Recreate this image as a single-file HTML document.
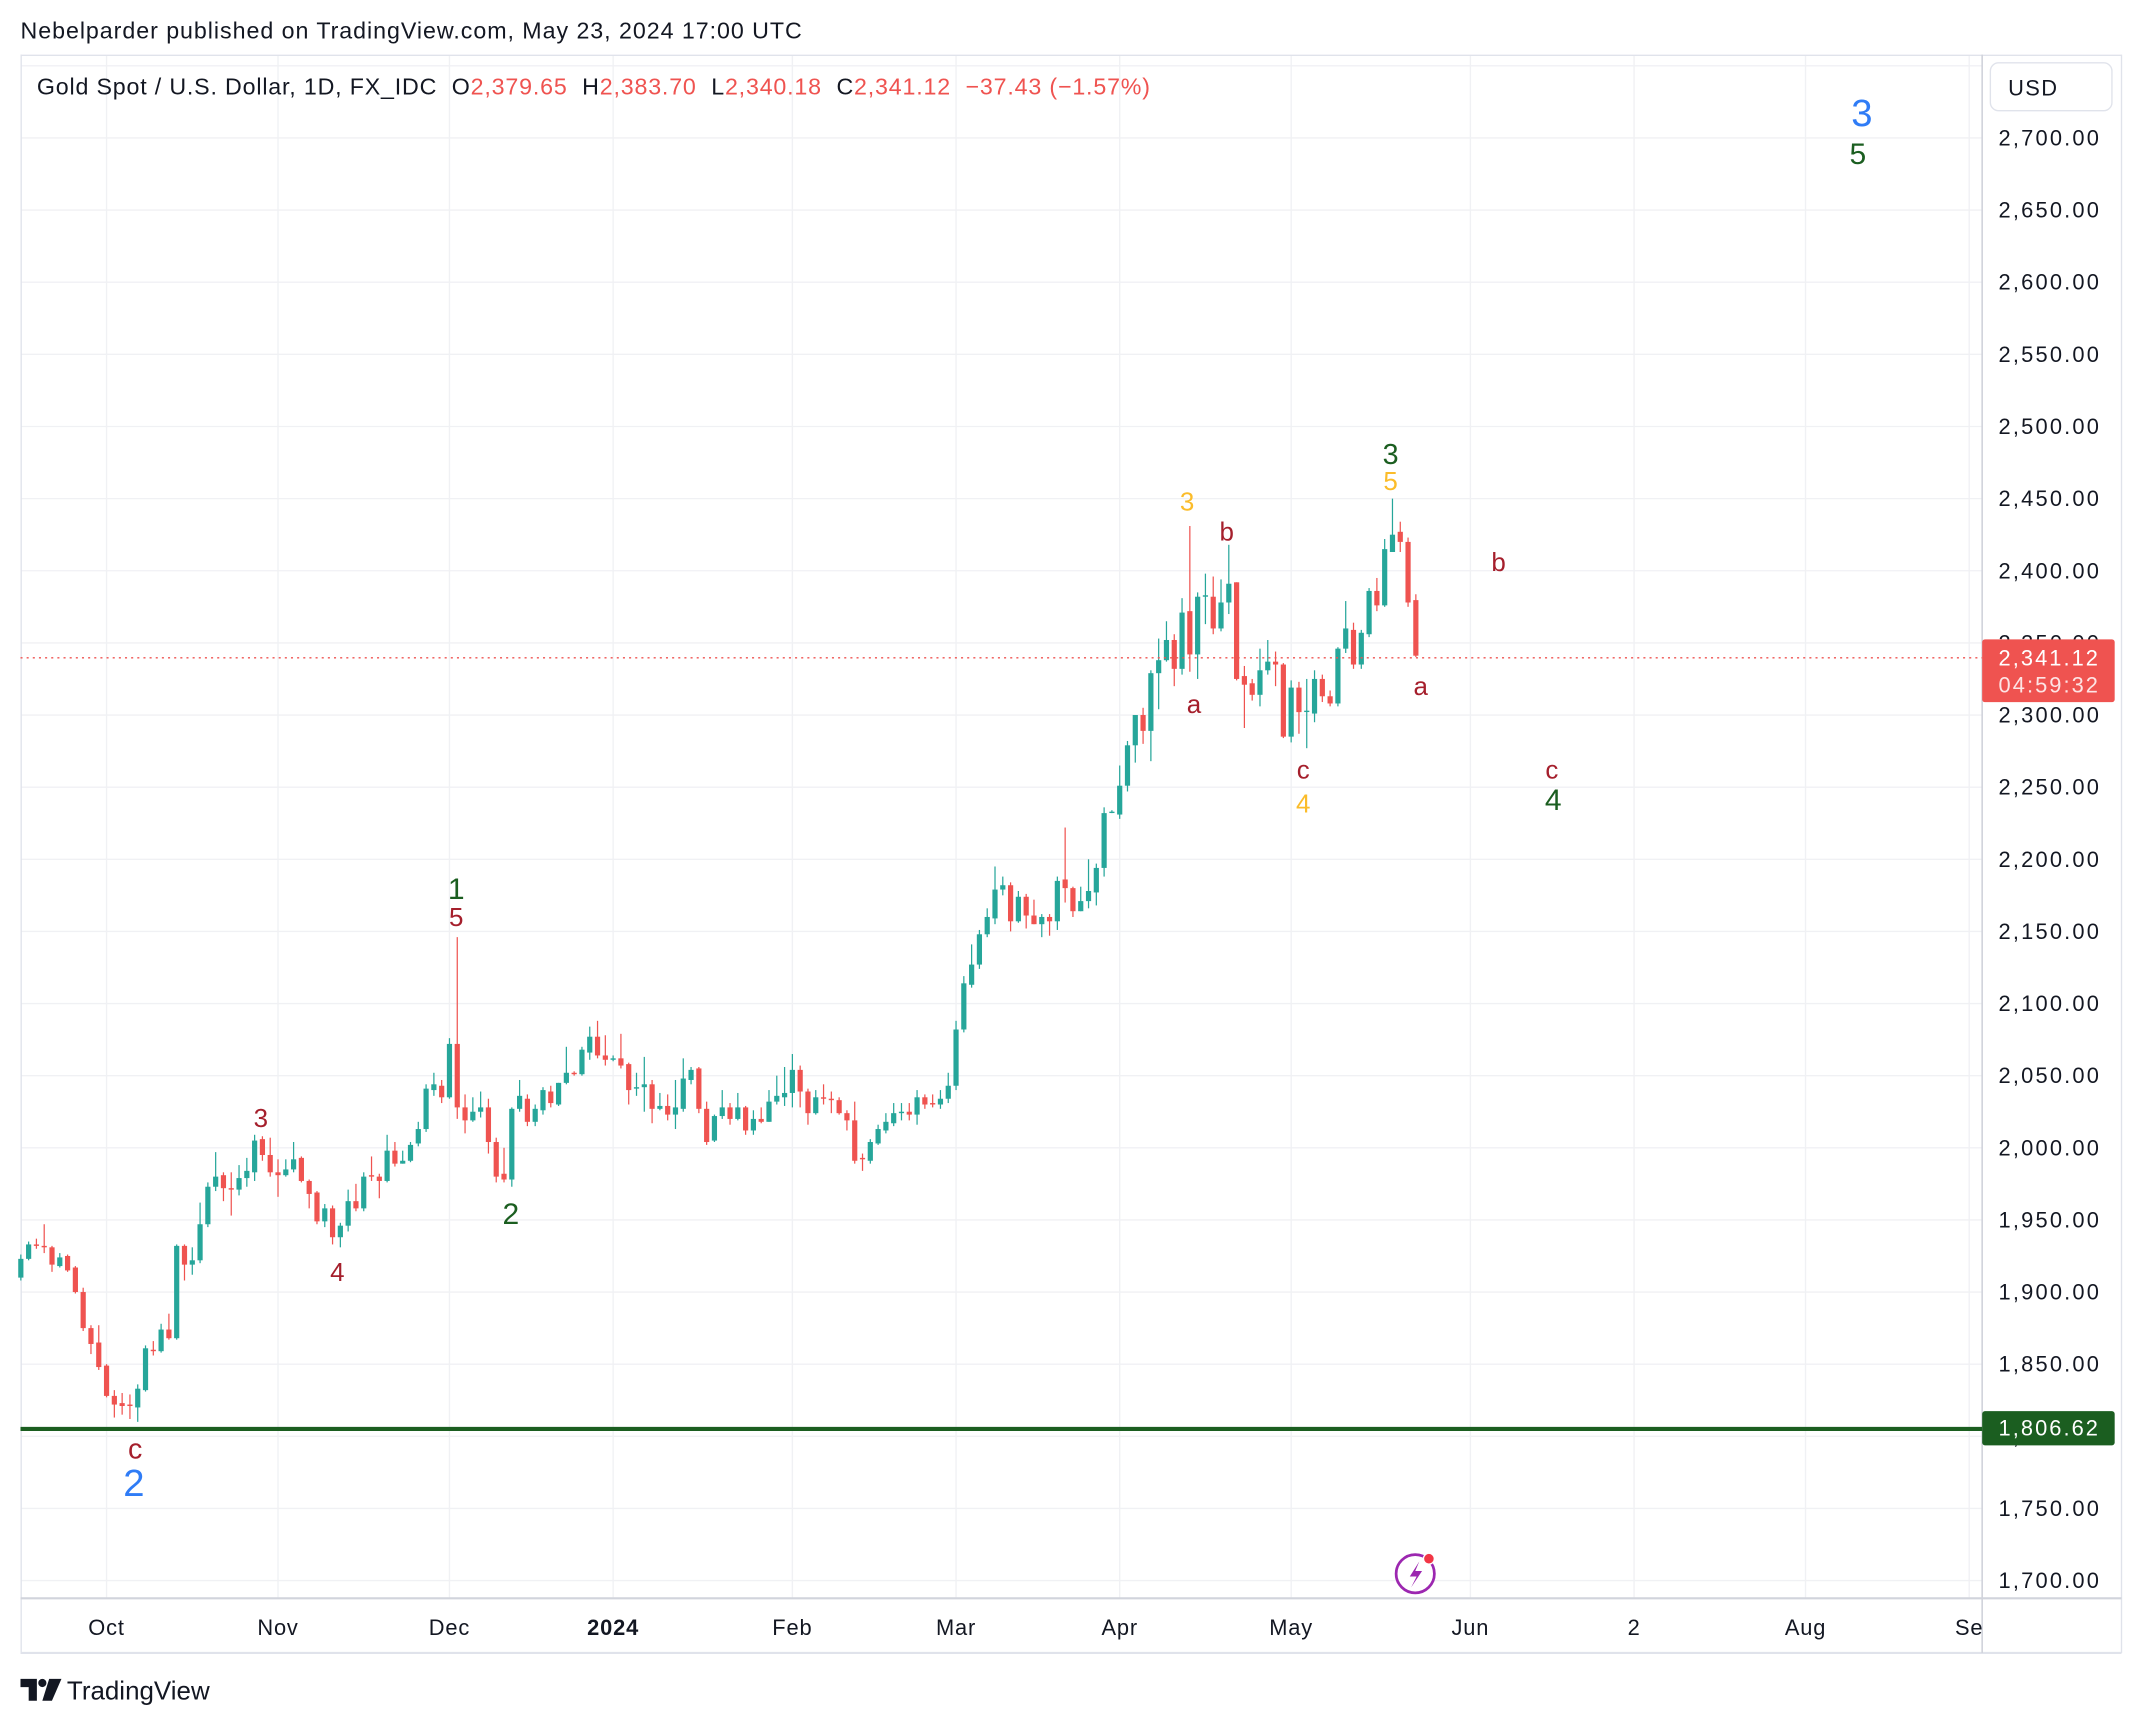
<!DOCTYPE html>
<html><head><meta charset="utf-8"><style>
html,body{margin:0;padding:0;background:#fff;}
svg{display:block;font-family:"Liberation Sans",sans-serif;}
</style></head><body>
<svg id="chart" width="2142" height="1724" viewBox="0 0 1568 1262" xmlns="http://www.w3.org/2000/svg">
<rect x="0" y="0" width="1568" height="1262" fill="#fff"/>
<text x="15" y="28" font-size="17" letter-spacing="0.7" fill="#131722">Nebelparder published on TradingView.com, May 23, 2024 17:00 UTC</text>
<g id="grid"></g>
<g id="frame">
<line x1="15" y1="40.5" x2="1553" y2="40.5" stroke="#e0e3eb" stroke-width="1"/>
<line x1="15.5" y1="40" x2="15.5" y2="1210" stroke="#e0e3eb" stroke-width="1"/>
<line x1="1553" y1="40" x2="1553" y2="1210" stroke="#e0e3eb" stroke-width="1"/>
<line x1="15" y1="1210" x2="1553" y2="1210" stroke="#e0e3eb" stroke-width="1.5"/>
<line x1="15" y1="1170" x2="1553" y2="1170" stroke="#d1d4dc" stroke-width="1.5"/>
<line x1="1451" y1="40" x2="1451" y2="1210" stroke="#d1d4dc" stroke-width="1.2"/>
</g>
<text xml:space="preserve" x="27" y="69" font-size="17" letter-spacing="0.6" fill="#131722">Gold Spot / U.S. Dollar, 1D, FX_IDC  O<tspan fill="#ef5350">2,379.65</tspan>  H<tspan fill="#ef5350">2,383.70</tspan>  L<tspan fill="#ef5350">2,340.18</tspan>  C<tspan fill="#ef5350">2,341.12</tspan>  <tspan fill="#ef5350">−37.43 (−1.57%)</tspan></text>
<g id="yaxis"></g>
<g id="xaxis"></g>
<g id="candles"></g>
<line x1="15" y1="481.5" x2="1451" y2="481.5" stroke="#ef5350" stroke-width="1" stroke-dasharray="1.5,3"/>
<line x1="15" y1="1046" x2="1451" y2="1046" stroke="#1b5e20" stroke-width="3"/>
<g>
<rect x="1457" y="46" width="89" height="35" rx="6" fill="#fff" stroke="#e0e3eb"/>
<text x="1470" y="70" font-size="16" letter-spacing="1" fill="#131722">USD</text>
</g>
<g>
<rect x="1451" y="468" width="97" height="46" rx="2" fill="#ef5350"/>
<text x="1463" y="487" font-size="16" letter-spacing="1.5" fill="#fff">2,341.12</text>
<text x="1463" y="507" font-size="16" letter-spacing="1.5" fill="#fde4e4">04:59:32</text>
</g>
<g>
<rect x="1451" y="1033" width="97" height="25" rx="2" fill="#1b5e20"/>
<text x="1463" y="1051" font-size="16" letter-spacing="1.5" fill="#fff">1,806.62</text>
</g>
<g id="labels"></g>
<g>
<circle cx="1036" cy="1152" r="14" fill="#fff" stroke="#9c27b0" stroke-width="2"/>
<path d="M1039 1143 L1032 1154 L1037 1154 L1033 1162 L1041 1150 L1036 1150 Z" fill="#9c27b0"/>
<circle cx="1046" cy="1141" r="4" fill="#f23645" stroke="#fff" stroke-width="1"/>
</g>
<g>
<path d="M15 1229 h12 v16 h-6 v-10 h-6 z" fill="#131722"/>
<circle cx="31" cy="1232" r="3" fill="#131722"/>
<path d="M36 1229 h9 l-7 16 h-7 z" fill="#131722"/>
<text x="49" y="1244" font-size="19" fill="#131722">TradingView</text>
</g>
</svg>
<script>
const opens=[1910,1923,1933,1932,1931,1918,1925,1917,1900,1875,1865,
1849,1828,1823,1822,1820,1832,1860,1859,1874,1868,1932,1919,1922,1947,1973,1981,1972,1971,1979,1983,2006,1995,
1983,1981,1985,1993,1977,1969,1949,1958,1938,1946,1963,1958,1981,1980,1977,1998,1989,1991,2003,2013,2040,2043,
2035,2072,2028,2019,2025,2028,2004,1982,1978,2027,2034,2018,2026,2039,2030,2045,2052,2051,2066,2077,2064,
2061,2062,2058,2041,2042,2044,2027,2029,2023,2027,2047,2055,2027,2005,2022,2028,2020,2028,2012,2020,2018,2032,2035,
2038,2054,2039,2024,2035,2034,2033,2024,2019,1993,1991,2003,2012,2017,2024,2025,2023,2035,2031,2030,2034,
2043,2082,2113,2127,2148,2159,2179,2182,2157,2174,2161,2155,2160,2157,2186,2180,2164,2171,2177,2194,2233,
2231,2251,2279,2300,2289,2329,2338,2352,2332,2372,2342,2382,2382,2360,2378,2392,2327,2322,2314,2331,2337,2335,
2285,2319,2303,2301,2325,2313,2308,2346,2359,2335,2356,2386,2376,2413,2427,2420,2379.65];
const highs=[1926,1935,1937,1947,1932,1927,1926,1918,1903,1877,1877,
1850,1832,1830,1829,1836,1863,1866,1878,1885,1933,1933,1931,1962,1976,1997,1983,1983,1988,1993,2009,2008,2007,
1992,1992,2004,1994,1978,1970,1961,1960,1948,1971,1975,1983,1994,1982,2009,2004,1998,2004,2018,2044,2052,2047,
2076,2146,2037,2035,2039,2034,2007,2000,2028,2047,2037,2030,2042,2043,2045,2070,2053,2070,2084,2088,2078,
2064,2079,2059,2052,2063,2047,2038,2037,2047,2062,2056,2056,2032,2023,2040,2031,2038,2029,2026,2028,2040,2050,2056,
2065,2057,2041,2040,2044,2039,2035,2026,2032,1996,2006,2016,2024,2031,2031,2031,2040,2037,2037,2040,2052,
2088,2119,2141,2151,2166,2195,2188,2184,2178,2176,2172,2162,2162,2188,2222,2181,2181,2200,2197,2236,2234,
2265,2282,2300,2305,2331,2353,2365,2356,2381,2431,2385,2398,2396,2394,2418,2392,2334,2325,2346,2352,2344,2336,
2324,2323,2325,2331,2328,2317,2347,2379,2364,2359,2388,2395,2422,2450,2434,2423,2383.70];
const lows=[1908,1922,1930,1927,1914,1917,1914,1899,1873,1857,1846,
1827,1813,1815,1812,1810,1831,1856,1858,1867,1867,1908,1912,1920,1945,1970,1963,1953,1967,1973,1977,1991,1980,
1966,1980,1983,1976,1958,1947,1945,1933,1931,1942,1956,1956,1977,1965,1976,1987,1989,1990,2001,2011,2036,2031,
2034,2020,2010,2018,2021,1996,1976,1976,1973,2025,2015,2015,2023,2028,2029,2044,2050,2050,2061,2062,2057,
2060,2055,2030,2036,2025,2017,2026,2019,2013,2025,2044,2024,2002,2004,2020,2016,2019,2009,2009,2017,2018,2030,2029,
2028,2028,2016,2023,2030,2024,2023,2012,1989,1984,1989,2002,2010,2015,2019,2019,2016,2027,2028,2027,2031,
2040,2080,2111,2124,2146,2155,2175,2150,2156,2152,2155,2146,2147,2151,2170,2160,2164,2166,2168,2188,2232,
2228,2247,2267,2280,2268,2304,2337,2320,2328,2330,2325,2363,2356,2358,2370,2324,2291,2310,2306,2328,2320,2284,
2281,2287,2277,2295,2309,2306,2306,2343,2332,2332,2354,2372,2375,2418,2413,2375,2340.18];
const closes=[1923,1933,1932,1931,1919,1924,1915,1900,1875,1864,1848,
1828,1822,1821,1821,1833,1861,1859,1874,1868,1932,1919,1922,1947,1973,1980,1972,1971,1979,1984,2005,1995,1983,
1981,1985,1992,1977,1968,1949,1958,1938,1946,1963,1958,1980,1980,1977,1998,1989,1991,2002,2013,2041,2044,2035,
2072,2028,2019,2025,2028,2004,1980,1978,2027,2036,2018,2027,2040,2031,2045,2052,2051,2068,2077,2064,2061,
2062,2057,2040,2042,2044,2027,2029,2023,2028,2048,2054,2027,2004,2022,2028,2020,2028,2012,2020,2018,2032,2036,2038,
2054,2039,2024,2035,2034,2033,2024,2019,1991,1992,2004,2013,2018,2024,2025,2023,2035,2030,2030,2034,2043,
2082,2114,2127,2148,2160,2179,2182,2157,2174,2161,2155,2160,2157,2185,2180,2164,2171,2178,2194,2232,2233,
2251,2279,2300,2289,2329,2338,2352,2332,2371,2342,2382,2383,2360,2378,2391,2325,2321,2314,2331,2337,2335,2285,
2319,2302,2303,2325,2313,2308,2346,2360,2335,2357,2386,2376,2415,2425,2420,2378,2341.12];
const firstIndex=-11;
const priceTicks=[2750,2700,2650,2600,2550,2500,2450,2400,2350,2300,2250,2200,2150,2100,2050,2000,1950,1900,1850,1800,1750,1700];
const timeLabels=["Oct","Nov","Dec","2024","Feb","Mar","Apr","May","Jun","2","Aug","Se"];
const timeIndex=[0,22,44,65,88,109,130,152,175,196,218,239];

const NS="http://www.w3.org/2000/svg";
function yS(p){return 101+(2700-p)*1.056;}
function xS(i){return 78+i*5.705;}
function mk(tag,attrs,parent,txt){const e=document.createElementNS(NS,tag);for(const k in attrs)e.setAttribute(k,attrs[k]);if(txt!==undefined)e.textContent=txt;parent.appendChild(e);return e;}
const grid=document.getElementById('grid'),ya=document.getElementById('yaxis'),xa=document.getElementById('xaxis'),cg=document.getElementById('candles'),lg=document.getElementById('labels');
priceTicks.forEach(p=>{const y=yS(p);
 const g=mk('line',{x1:15,x2:1451,y1:y,y2:y,stroke:'#f0f1f4','stroke-width':1},grid);
 
 
 if(p<=2700){const t=mk('text',{x:1463,y:y+5.5,'font-size':16,'letter-spacing':1.6,fill:'#131722'},ya,p.toLocaleString('en-US',{minimumFractionDigits:2}));
 
 }
});
timeLabels.forEach((lab,k)=>{const x=xS(timeIndex[k]);
 const g=mk('line',{x1:x,x2:x,y1:41,y2:1170,stroke:'#f0f1f4','stroke-width':1},grid);
 
 
 const t=mk('text',{x:x,y:1197,'font-size':16,'letter-spacing':0.6,fill:'#131722','text-anchor':'middle','font-weight':lab==='2024'?'bold':'normal'},xa,lab);
 
 
});
for(let k=0;k<closes.length;k++){
 const i=firstIndex+k,x=xS(i),o=opens[k],c=closes[k],h=highs[k],l=lows[k];
 const col=c>=o?'#26a69a':'#ef5350';
 const g=mk('g',{},cg);
 
 
 mk('line',{x1:x,x2:x,y1:yS(h),y2:yS(l),stroke:col,'stroke-width':0.9},g);
 const top=yS(Math.max(o,c)),bh=Math.max(1,Math.abs(yS(o)-yS(c)));
 mk('rect',{x:x-1.9,y:top,width:3.8,height:bh,fill:col},g);
}
const waveLabels=[["3",1363,82,28,"#2f7cf6"],["5",1360,112,22,"#1b5e20"],["3",1018,332,21,"#1b5e20"],["5",1018,352,19,"#fbbc2a"],
["3",869,367,19,"#fbbc2a"],["b",898,389,19,"#a51f2c"],["a",874,515,19,"#a51f2c"],["b",1097,411,19,"#a51f2c"],["a",1040,502,19,"#a51f2c"],
["c",954,563,19,"#a51f2c"],["4",954,588,19,"#fbbc2a"],["c",1136,563,19,"#a51f2c"],["4",1137,585,22,"#1b5e20"],
["1",334,650,22,"#1b5e20"],["5",334,671,19,"#a51f2c"],["3",191,818,19,"#a51f2c"],["4",247,931,19,"#a51f2c"],["2",374,888,22,"#1b5e20"],
["c",99,1060,21,"#a51f2c"],["2",98,1085,28,"#2f7cf6"]];
waveLabels.forEach(w=>{const t=mk('text',{x:w[1],y:w[2]+w[3]*0.36,'font-size':w[3],fill:w[4],'text-anchor':'middle'},lg,w[0]);
 
 });
</script>
</body></html>
